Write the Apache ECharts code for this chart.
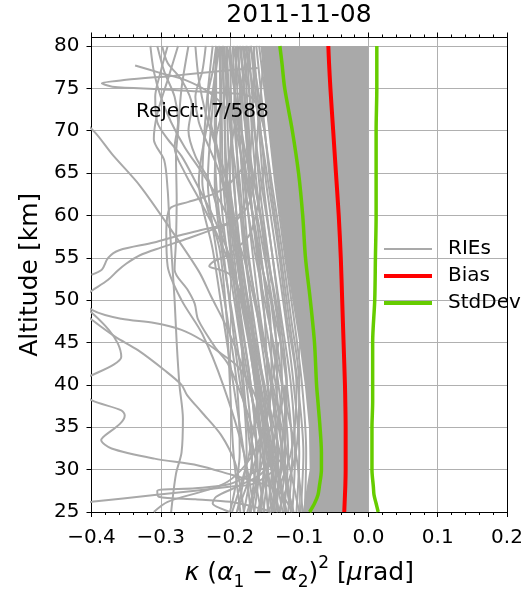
<!DOCTYPE html>
<html>
<head>
<meta charset="utf-8">
<script src="https://cdn.jsdelivr.net/npm/echarts@6.0.0/dist/echarts.min.js"></script>
<style>
  html, body { margin: 0; padding: 0; background: #ffffff; }
  #chart { width: 527px; height: 589px; }
</style>
</head>
<body>
<div id="chart"></div>
<script>
// ---- axes ----
const X_TICKS = [-0.4, -0.3, -0.2, -0.1, 0.0, 0.1, 0.2];
const ALT_TICKS = [25, 30, 35, 40, 45, 50, 55, 60, 65, 70, 75, 80];
const ALT_TOP = 81;

// ---- statistics profiles (altitude in km, value in µrad) ----
const PROFILE_ALT = [25, 26, 27, 28, 30, 32, 35, 38, 40, 45, 50, 55, 60, 65, 70, 75, 78, 80];
const BIAS      = [-0.035, -0.0345, -0.034, -0.0335, -0.033, -0.033, -0.033, -0.0335, -0.034, -0.036, -0.038, -0.040, -0.043, -0.047, -0.051, -0.055, -0.057, -0.058];
const STD_LOW   = [-0.085, -0.078, -0.073, -0.071, -0.068, -0.068, -0.070, -0.073, -0.075, -0.078, -0.084, -0.091, -0.095, -0.101, -0.110, -0.121, -0.125, -0.128];
const STD_HIGH  = [0.014, 0.011, 0.008, 0.007, 0.005, 0.005, 0.005, 0.006, 0.006, 0.006, 0.009, 0.010, 0.011, 0.011, 0.011, 0.012, 0.012, 0.012];

// ---- core of the RIE ensemble (fully overlapping profiles) ----
const BAND_ALT   = [25, 30, 35, 40, 45, 50, 55, 60, 65, 70, 75, 80];
const BAND_LEFT  = [-0.095, -0.085, -0.086, -0.092, -0.100, -0.110, -0.120, -0.128, -0.136, -0.144, -0.150, -0.156];
const BAND_RIGHT = [0.0, 0.0, 0.0, 0.0, 0.0, 0.0, 0.0, 0.0, 0.0, 0.0, 0.0, 0.0];

// ---- individual RIE profiles sampled on common levels ----
const DENSE_ALT = [25, 32, 40, 48, 56, 64, 72, 80];
const DENSE_RIES = [
  [-0.092, -0.090, -0.096, -0.108, -0.122, -0.135, -0.146, -0.158],
  [-0.098, -0.094, -0.102, -0.115, -0.128, -0.142, -0.152, -0.162],
  [-0.104, -0.100, -0.108, -0.120, -0.134, -0.148, -0.158, -0.166],
  [-0.110, -0.106, -0.112, -0.126, -0.140, -0.152, -0.160, -0.170],
  [-0.116, -0.110, -0.118, -0.132, -0.146, -0.158, -0.166, -0.173],
  [-0.122, -0.116, -0.124, -0.138, -0.150, -0.162, -0.170, -0.176],
  [-0.128, -0.120, -0.130, -0.144, -0.156, -0.168, -0.174, -0.180],
  [-0.134, -0.126, -0.134, -0.150, -0.162, -0.172, -0.178, -0.184],
  [-0.140, -0.132, -0.140, -0.156, -0.168, -0.178, -0.184, -0.188],
  [-0.146, -0.138, -0.146, -0.160, -0.174, -0.182, -0.188, -0.192],
  [-0.152, -0.144, -0.152, -0.166, -0.180, -0.188, -0.192, -0.196],
  [-0.158, -0.150, -0.158, -0.172, -0.186, -0.194, -0.198, -0.200],
  [-0.165, -0.156, -0.164, -0.178, -0.192, -0.200, -0.204, -0.205],
  [-0.172, -0.162, -0.170, -0.184, -0.198, -0.206, -0.208, -0.210],
  [-0.180, -0.168, -0.176, -0.190, -0.205, -0.214, -0.214, -0.215],
  [-0.190, -0.176, -0.182, -0.196, -0.212, -0.222, -0.220, -0.220],
  [-0.200, -0.186, -0.190, -0.204, -0.220, -0.232, -0.226, -0.218],
  [-0.112, -0.128, -0.150, -0.170, -0.185, -0.195, -0.200, -0.205],
  [-0.124, -0.140, -0.160, -0.178, -0.192, -0.204, -0.208, -0.212],
  [-0.136, -0.152, -0.172, -0.188, -0.200, -0.210, -0.212, -0.214],
  [-0.150, -0.165, -0.185, -0.198, -0.210, -0.220, -0.222, -0.220],
  [-0.160, -0.140, -0.125, -0.130, -0.148, -0.165, -0.180, -0.195],
  [-0.175, -0.150, -0.132, -0.136, -0.152, -0.170, -0.188, -0.204],
  [-0.190, -0.160, -0.140, -0.142, -0.158, -0.176, -0.196, -0.212],
  [-0.100, -0.118, -0.138, -0.158, -0.176, -0.186, -0.194, -0.190],
  [-0.095, -0.105, -0.125, -0.145, -0.165, -0.180, -0.190, -0.200],
  [-0.130, -0.105, -0.100, -0.112, -0.125, -0.140, -0.154, -0.170],
  [-0.145, -0.112, -0.104, -0.118, -0.130, -0.145, -0.160, -0.178],
  [-0.185, -0.195, -0.200, -0.205, -0.215, -0.240, -0.235, -0.225],
  [-0.170, -0.180, -0.195, -0.210, -0.225, -0.245, -0.230, -0.215],
  [-0.155, -0.170, -0.180, -0.185, -0.195, -0.205, -0.190, -0.175],
  [-0.118, -0.135, -0.145, -0.150, -0.160, -0.175, -0.185, -0.170],
  [-0.138, -0.122, -0.118, -0.128, -0.140, -0.155, -0.168, -0.182],
  [-0.108, -0.125, -0.118, -0.135, -0.160, -0.172, -0.176, -0.186],
  [-0.197, -0.172, -0.160, -0.168, -0.178, -0.190, -0.202, -0.208]
];

// ---- RIE profiles that stray far from the ensemble, as [value, altitude] ----
const STRAY_RIES = [
  [[-0.16, 77.4], [-0.22, 77.0], [-0.28, 76.5], [-0.35, 76.0], [-0.385, 75.6], [-0.37, 75.2], [-0.30, 74.9], [-0.22, 74.5], [-0.17, 74.0], [-0.15, 70]],
  [[-0.337, 77.7], [-0.30, 76.8], [-0.265, 76.0], [-0.23, 74.5], [-0.20, 72], [-0.18, 68], [-0.16, 62], [-0.14, 52]],
  [[-0.43, 72.5], [-0.395, 69.8], [-0.37, 67.2], [-0.33, 63.5], [-0.285, 58.3], [-0.245, 53.4], [-0.227, 50.4], [-0.203, 46.5], [-0.18, 41.7], [-0.16, 36], [-0.14, 30], [-0.13, 25]],
  [[-0.275, 80], [-0.29, 76], [-0.305, 72], [-0.31, 69], [-0.295, 66.5], [-0.29, 63], [-0.288, 60], [-0.284, 55], [-0.28, 50], [-0.277, 45], [-0.273, 40], [-0.268, 36], [-0.27, 32], [-0.278, 29.5], [-0.285, 25]],
  [[-0.19, 80], [-0.18, 72], [-0.175, 67], [-0.2, 63.8], [-0.222, 62.6], [-0.26, 61.6], [-0.287, 60.8], [-0.292, 58], [-0.29, 54], [-0.27, 50], [-0.24, 46], [-0.21, 40], [-0.18, 32], [-0.165, 25]],
  [[-0.42, 50.0], [-0.398, 51.2], [-0.376, 52.4], [-0.362, 53.5], [-0.35, 54.3], [-0.33, 55.3], [-0.30, 56.2], [-0.26, 57.3], [-0.22, 58.5], [-0.19, 59.5], [-0.17, 62], [-0.16, 70], [-0.15, 80]],
  [[-0.40, 53.0], [-0.385, 53.6], [-0.376, 55.0], [-0.36, 55.9], [-0.31, 56.8], [-0.275, 57.6], [-0.24, 58.3], [-0.2, 59.2], [-0.18, 61], [-0.17, 68], [-0.165, 80]],
  [[-0.45, 52], [-0.398, 48.8], [-0.357, 47.8], [-0.309, 47.3], [-0.27, 46.5], [-0.241, 45.3], [-0.213, 43.7], [-0.188, 42.1], [-0.165, 39], [-0.15, 35], [-0.14, 30], [-0.135, 25]],
  [[-0.45, 51], [-0.398, 47.6], [-0.366, 45.7], [-0.333, 44.1], [-0.294, 41.7], [-0.27, 40], [-0.262, 38.8], [-0.241, 36.8], [-0.213, 34.1], [-0.193, 30.9], [-0.185, 28], [-0.18, 25]],
  [[-0.45, 52], [-0.398, 48.4], [-0.375, 46.5], [-0.362, 44.9], [-0.357, 43.3], [-0.368, 42.4], [-0.398, 41.2], [-0.43, 40], [-0.40, 38.2], [-0.357, 37], [-0.352, 36.4], [-0.359, 35.4], [-0.381, 34], [-0.386, 33.5], [-0.371, 32.5], [-0.309, 31.3], [-0.246, 30.5], [-0.198, 29.4], [-0.16, 28.5], [-0.13, 27.5], [-0.11, 25]],
  [[-0.26, 80], [-0.27, 75], [-0.275, 70], [-0.278, 67], [-0.277, 62], [-0.278, 57], [-0.28, 53.6], [-0.261, 51.2], [-0.251, 49.6], [-0.246, 47.7], [-0.222, 44.5], [-0.203, 42.5], [-0.18, 38], [-0.16, 33], [-0.14, 28], [-0.13, 25]],
  [[-0.15, 45], [-0.13, 31], [-0.164, 28.4], [-0.198, 28], [-0.309, 27], [-0.40, 26.2], [-0.45, 25.8]],
  [[-0.12, 40], [-0.12, 32], [-0.17, 29.5], [-0.2, 28.3], [-0.25, 27.8], [-0.305, 27.5], [-0.303, 26.8], [-0.25, 26.5], [-0.2, 26.2], [-0.16, 25.5], [-0.14, 25]],
  [[-0.13, 45], [-0.16, 33], [-0.203, 28.6], [-0.29, 26.2], [-0.31, 25]],
  [[-0.15, 66], [-0.17, 58], [-0.2, 55.5], [-0.225, 54.5], [-0.23, 54.0], [-0.215, 53.6], [-0.2, 53.0], [-0.18, 50], [-0.165, 45], [-0.14, 35], [-0.12, 25]],
  [[-0.12, 40], [-0.15, 30], [-0.19, 28], [-0.22, 26.8], [-0.225, 26], [-0.21, 25.3], [-0.2, 25]],
  [[-0.315, 80], [-0.31, 77], [-0.30, 74], [-0.285, 71], [-0.265, 68], [-0.24, 65], [-0.21, 61], [-0.18, 55], [-0.16, 48], [-0.14, 40], [-0.12, 30], [-0.11, 25]],
  [[-0.305, 80], [-0.295, 77], [-0.28, 74], [-0.275, 71], [-0.28, 68], [-0.265, 65], [-0.245, 62], [-0.22, 58], [-0.19, 52], [-0.17, 45], [-0.15, 37], [-0.13, 25]],
  [[-0.29, 80], [-0.30, 77], [-0.308, 74], [-0.305, 71], [-0.29, 69], [-0.27, 67], [-0.25, 64], [-0.225, 60], [-0.2, 55], [-0.18, 48], [-0.16, 38], [-0.145, 25]],
  [[-0.25, 80], [-0.245, 76], [-0.235, 72], [-0.22, 68], [-0.205, 64], [-0.19, 58], [-0.175, 50], [-0.16, 42], [-0.14, 33], [-0.12, 25]],
  [[-0.235, 80], [-0.24, 77], [-0.25, 74], [-0.245, 71], [-0.23, 68], [-0.215, 65], [-0.2, 60], [-0.185, 52], [-0.17, 44], [-0.15, 35], [-0.13, 25]],
  [[-0.22, 80], [-0.225, 77], [-0.232, 74], [-0.228, 71], [-0.215, 67], [-0.2, 63], [-0.19, 57], [-0.175, 48], [-0.155, 38], [-0.14, 25]],
  [[-0.21, 80], [-0.205, 76], [-0.212, 72], [-0.22, 69], [-0.215, 66], [-0.2, 61], [-0.185, 53], [-0.165, 42], [-0.15, 32], [-0.155, 25]],
  [[-0.298, 80], [-0.29, 78], [-0.27, 76], [-0.255, 73], [-0.26, 70], [-0.25, 67], [-0.23, 64], [-0.21, 58], [-0.19, 50], [-0.17, 40], [-0.16, 30], [-0.17, 25]]
];

const REJECT_TEXT = 'Reject: 7/588';
const TITLE_TEXT = '2011-11-08';

const RIE_GREY = '#a9a9a9';
const BIAS_RED = '#ff0000';
const STD_GREEN = '#66cc00';
const FONT = 'DejaVu Sans';

const pairs = (xs, ys) => xs.map((x, i) => [x, ys[i]]);

const rieLine = (data) => ({
  type: 'line', name: 'RIEs', data: data, showSymbol: false, symbol: 'none',
  smooth: 0.3, silent: true, z: 2, clip: true,
  lineStyle: { color: RIE_GREY, width: 2 }, itemStyle: { color: RIE_GREY }
});

const series = [];
DENSE_RIES.forEach(xs => series.push(rieLine(pairs(xs, DENSE_ALT))));
STRAY_RIES.forEach(p => series.push(rieLine(p)));

// solid core of the ensemble, filled between its left and right edges
series.push({
  type: 'custom', name: 'RIE core', silent: true, z: 2,
  data: [[BAND_RIGHT[0], BAND_ALT[0]]],
  renderItem: function (params, api) {
    const pts = [];
    for (let i = 0; i < BAND_ALT.length; i++) pts.push(api.coord([BAND_LEFT[i], BAND_ALT[i]]));
    for (let i = BAND_ALT.length - 1; i >= 0; i--) pts.push(api.coord([BAND_RIGHT[i], BAND_ALT[i]]));
    return { type: 'polygon', shape: { points: pts }, style: { fill: RIE_GREY } };
  }
});

series.push({
  type: 'line', name: 'Bias', data: pairs(BIAS, PROFILE_ALT), showSymbol: false, symbol: 'none',
  smooth: 0.3, z: 4, lineStyle: { color: BIAS_RED, width: 4 }, itemStyle: { color: BIAS_RED }
});
series.push({
  type: 'line', name: 'StdDev', data: pairs(STD_LOW, PROFILE_ALT), showSymbol: false, symbol: 'none',
  smooth: 0.3, z: 4, lineStyle: { color: STD_GREEN, width: 3.5 }, itemStyle: { color: STD_GREEN }
});
series.push({
  type: 'line', name: 'StdDev', data: pairs(STD_HIGH, PROFILE_ALT), showSymbol: false, symbol: 'none',
  smooth: 0.3, z: 4, lineStyle: { color: STD_GREEN, width: 3.5 }, itemStyle: { color: STD_GREEN }
});

const fmtX = v => (v < -1e-9 ? '\u2212' : '') + Math.abs(v).toFixed(1);

const legendBase = (name, top, h) => ({
  data: [{ name: name, icon: 'rect' }],
  left: 384, top: top, orient: 'vertical', padding: 0,
  itemWidth: 48, itemHeight: h, selectedMode: false,
  textStyle: { fontFamily: FONT, fontSize: 20, color: '#000', padding: [0, 0, 0, 11] }
});

const chart = echarts.init(document.getElementById('chart'), null, { renderer: 'canvas' });
chart.setOption({
  animation: false,
  backgroundColor: '#ffffff',
  title: {
    text: TITLE_TEXT, left: 299, top: 3, padding: 0, textAlign: 'center',
    textStyle: { fontFamily: FONT, fontSize: 25, fontWeight: 'normal', color: '#000' }
  },
  legend: [
    legendBase('RIEs', 239, 2),
    legendBase('Bias', 266, 4),
    legendBase('StdDev', 293, 4)
  ],
  grid: { left: 91.5, right: 20, top: 37.5, bottom: 77, containLabel: false, outerBoundsMode: 'none' },
  graphic: [{
    type: 'text', left: 136, top: 102, z: 10,
    style: { text: REJECT_TEXT, font: '20px "DejaVu Sans"', fill: '#000' }
  }],
  xAxis: [{
    type: 'value', position: 'bottom', min: X_TICKS[0], max: X_TICKS[X_TICKS.length - 1], interval: 0.1,
    axisLine: { show: true, onZero: false, lineStyle: { color: '#000', width: 1 } },
    axisTick: { show: true, length: 5, lineStyle: { color: '#000' } },
    minorTick: { show: true, splitNumber: 5, length: 3, lineStyle: { color: '#000' } },
    axisLabel: { formatter: fmtX, fontFamily: FONT, fontSize: 20, color: '#000', margin: 16 },
    splitLine: { show: true, lineStyle: { color: '#b0b0b0', width: 1 } },
    name: '{i|\u03ba} ({i|\u03b1}{sub|1} \u2212 {i|\u03b1}{sub|2}){sup|2} [{i|\u03bc}rad]',
    nameLocation: 'middle', nameGap: 43,
    nameTextStyle: {
      fontFamily: FONT, fontSize: 25, color: '#000', lineHeight: 36,
      rich: {
        i: { fontFamily: FONT, fontSize: 25, fontStyle: 'italic', color: '#000', lineHeight: 36 },
        sub: { fontFamily: FONT, fontSize: 17, color: '#000', lineHeight: 17, verticalAlign: 'bottom' },
        sup: { fontFamily: FONT, fontSize: 17, color: '#000', lineHeight: 17, verticalAlign: 'top' }
      }
    }
  }, {
    type: 'value', position: 'top', min: X_TICKS[0], max: X_TICKS[X_TICKS.length - 1], interval: 0.1,
    axisLine: { show: true, onZero: false, lineStyle: { color: '#000', width: 1 } },
    axisTick: { show: true, length: 5, lineStyle: { color: '#000' } },
    minorTick: { show: true, splitNumber: 5, length: 3, lineStyle: { color: '#000' } },
    axisLabel: { show: false },
    splitLine: { show: false }
  }],
  yAxis: [{
    type: 'value', position: 'left', min: ALT_TICKS[0], max: ALT_TOP, interval: 5,
    axisLine: { show: true, onZero: false, lineStyle: { color: '#000', width: 1 } },
    axisTick: { show: true, length: 5, lineStyle: { color: '#000' }, customValues: ALT_TICKS },
    axisLabel: { fontFamily: FONT, fontSize: 20, color: '#000', margin: 12, customValues: ALT_TICKS },
    splitLine: { show: true, lineStyle: { color: '#b0b0b0', width: 1 } },
    name: 'Altitude [km]', nameLocation: 'middle', nameGap: 47,
    nameTextStyle: { fontFamily: FONT, fontSize: 25, color: '#000' }
  }, {
    type: 'value', position: 'right', min: ALT_TICKS[0], max: ALT_TOP, interval: 5,
    axisLine: { show: true, onZero: false, lineStyle: { color: '#000', width: 1 } },
    axisTick: { show: false }, axisLabel: { show: false }, splitLine: { show: false }
  }],
  series: series
});
</script>
</body>
</html>
